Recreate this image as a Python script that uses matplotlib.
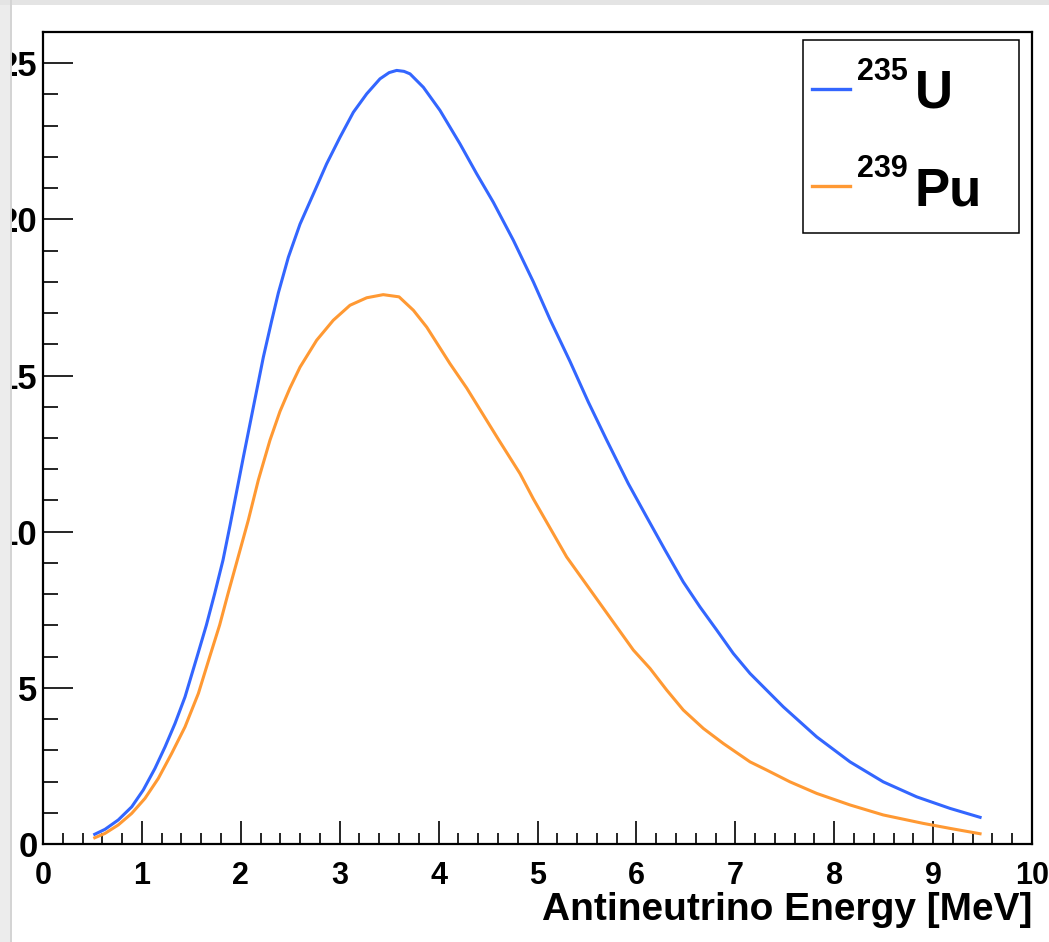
import matplotlib
matplotlib.use("Agg")
import matplotlib.pyplot as plt
from matplotlib.patches import Rectangle
from matplotlib.lines import Line2D
from matplotlib.ticker import MultipleLocator

# ---- data ----
u235_energy = [0.509, 0.627, 0.761, 0.897, 1.014, 1.132, 1.234, 1.335, 1.436, 1.557, 1.652,
               1.736, 1.82, 1.891, 2.026, 2.127, 2.228, 2.312, 2.38, 2.481, 2.599, 2.75,
               2.868, 3.003, 3.138, 3.273, 3.407, 3.5, 3.576, 3.65, 3.711, 3.846, 4.014,
               4.216, 4.385, 4.553, 4.756, 4.958, 5.126, 5.329, 5.514, 5.7, 5.918, 6.104,
               6.29, 6.474, 6.643, 6.812, 6.98, 7.149, 7.486, 7.823, 8.16, 8.496, 8.834,
               9.171, 9.49]
u235_flux = [0.29, 0.47, 0.77, 1.19, 1.73, 2.42, 3.11, 3.86, 4.71, 5.99, 7.01,
             8.02, 9.09, 10.2, 12.39, 13.99, 15.59, 16.75, 17.65, 18.79, 19.85, 20.93,
             21.78, 22.63, 23.43, 24.02, 24.5, 24.7, 24.77, 24.74, 24.66, 24.23, 23.49,
             22.42, 21.46, 20.55, 19.33, 18.0, 16.8, 15.45, 14.15, 12.93, 11.54, 10.47,
             9.41, 8.39, 7.59, 6.85, 6.10, 5.46, 4.39, 3.43, 2.63, 1.99, 1.51,
             1.14, 0.84]

pu239_energy = [0.509, 0.627, 0.761, 0.897, 1.031, 1.166, 1.301, 1.436, 1.571, 1.685, 1.786,
                1.871, 1.955, 2.076, 2.177, 2.295, 2.396, 2.497, 2.599, 2.767, 2.935, 3.104,
                3.273, 3.44, 3.6, 3.745, 3.88, 4.115, 4.284, 4.6, 4.823, 4.958, 5.295,
                5.632, 5.969, 6.138, 6.306, 6.474, 6.677, 6.878, 7.149, 7.316, 7.553,
                7.823, 8.16, 8.496, 8.9, 9.171, 9.49]
pu239_flux = [0.18, 0.34, 0.61, 0.98, 1.46, 2.10, 2.90, 3.75, 4.82, 5.99, 7.01,
              8.02, 8.98, 10.37, 11.65, 12.93, 13.85, 14.6, 15.27, 16.13, 16.77, 17.25,
              17.49, 17.59, 17.52, 17.09, 16.55, 15.38, 14.6, 12.98, 11.86, 11.05, 9.19,
              7.70, 6.21, 5.62, 4.93, 4.29, 3.70, 3.22, 2.63, 2.37, 1.99,
              1.62, 1.25, 0.93, 0.66, 0.50, 0.32]

series_labels = [("235", "U"), ("239", "Pu")]
series_colors = ["#3366FF", "#FF9933"]
x_label = "Antineutrino Energy [MeV]"

plt.rcParams['font.family'] = ['Liberation Sans', 'DejaVu Sans']
plt.rcParams['font.weight'] = 'bold'

W, H = 1049, 942
fig = plt.figure(figsize=(W / 100, H / 100), dpi=100)
fig.patch.set_facecolor("white")

def fx(px):
    return px / W

def fy(py):
    return (H - py) / H

ax = fig.add_axes([fx(43), fy(844), fx(1032) - fx(43), fy(32) - fy(844)])

for xv, yv, col in zip([u235_energy, pu239_energy], [u235_flux, pu239_flux], series_colors):
    ax.plot(xv, yv, color=col, lw=2.2, solid_joinstyle='round',
            solid_capstyle='butt', zorder=3)

ax.set_xlim(0, 10)
ax.set_ylim(0, 26)
ax.xaxis.set_major_locator(MultipleLocator(1))
ax.xaxis.set_minor_locator(MultipleLocator(0.2))
ax.yaxis.set_major_locator(MultipleLocator(5))
ax.yaxis.set_minor_locator(MultipleLocator(1))

for s in ax.spines.values():
    s.set_linewidth(1.6)
    s.set_color("black")

ax.tick_params(axis='x', which='major', direction='in', length=16.5, width=1.2,
               pad=12, labelsize=22, top=False)
ax.tick_params(axis='x', which='minor', direction='in', length=8, width=1.2, top=False)
ax.tick_params(axis='y', which='major', direction='in', length=21.5, width=1.2,
               pad=4, labelsize=25, right=False)
ax.tick_params(axis='y', which='minor', direction='in', length=10.8, width=1.2, right=False)
for lab in ax.get_xticklabels() + ax.get_yticklabels():
    lab.set_fontweight('bold')

fig.text(fx(1032), fy(920), x_label, ha='right', va='baseline',
         fontsize=28, fontweight='bold')

# legend box
fig.add_artist(Rectangle((fx(803), fy(233)), fx(1019) - fx(803), fy(40) - fy(233),
                         transform=fig.transFigure, facecolor='white',
                         edgecolor='black', lw=1.1, zorder=5))
rows = [(89, 80, 108), (186, 177, 205)]
for (iso, elem), col, (ly, sup_base, main_base) in zip(series_labels, series_colors, rows):
    fig.add_artist(Line2D([fx(812), fx(850)], [fy(ly), fy(ly)], color=col, lw=2.4,
                          transform=fig.transFigure, zorder=6))
    fig.text(fx(857), fy(sup_base), iso, ha='left', va='baseline', fontsize=22,
             fontweight='bold', zorder=6)
    fig.text(fx(915), fy(main_base), elem, ha='left', va='baseline', fontsize=38,
             fontweight='bold', zorder=6)

# window border strips (left and top)
fig.add_artist(Rectangle((0, 0), fx(11), 1, transform=fig.transFigure,
                         facecolor='#ececec', edgecolor='none', zorder=20))
fig.add_artist(Rectangle((fx(9.5), 0), fx(2), 1, transform=fig.transFigure,
                         facecolor='#d4d4d4', edgecolor='none', zorder=21))
fig.add_artist(Rectangle((0, fy(5)), 1, 1 - fy(5), transform=fig.transFigure,
                         facecolor='#e4e4e4', edgecolor='none', zorder=20))

fig.savefig("out.png", dpi=100)
